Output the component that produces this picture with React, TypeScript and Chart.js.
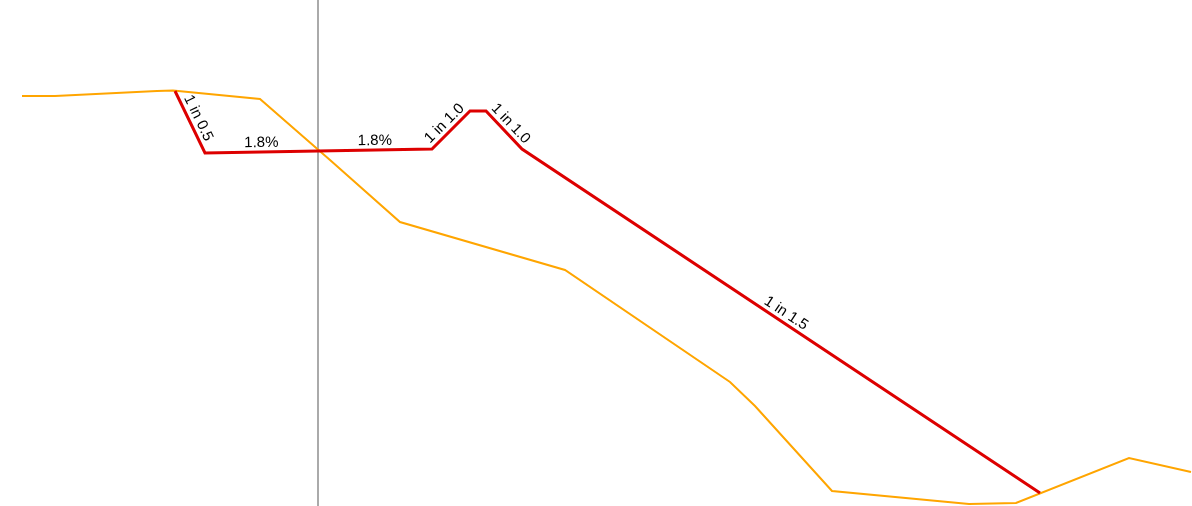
import React, { useEffect, useRef } from "react";
import { Chart, registerables } from "chart.js";

Chart.register(...registerables);

// Offsets (m) from centreline and elevations (m)
const groundX = [-11.84, -10.52, -6.44, -5.8, -2.32, 0.48, 3.28, 9.88, 16.48, 17.48, 20.56, 26.04, 27.92, 32.44, 34.92];
const groundY = [101.16, 101.16, 101.36, 101.38, 101.04, 98.6, 96.12, 94.2, 89.72, 88.76, 85.36, 84.84, 84.88, 86.68, 86.12];

const designX = [-5.72, -4.52, 0, 4.56, 6.08, 6.72, 8.16, 28.88];
const designY = [101.36, 98.88, 98.96, 99.04, 100.56, 100.56, 99.04, 85.28];

// Segment labels: index of segment start in design arrays
const labelSegments = [0, 1, 2, 3, 5, 6];
const labelTexts = ["1 in 0.5", "1.8%", "1.8%", "1 in 1.0", "1 in 1.0", "1 in 1.5"];

const xMin = -12.72;
const xMax = 34.96;
const yMin = 84.76;
const yMax = 105;
const centreX = 0;

const segLabelPlugin = {
  id: "segLabels",
  afterDatasetsDraw(chart: any) {
    const ctx = chart.ctx;
    const xs = chart.scales.x;
    const ys = chart.scales.y;
    ctx.save();
    ctx.font = '15px "Liberation Sans", Arial, sans-serif';
    ctx.fillStyle = "#000";
    ctx.textAlign = "center";
    ctx.textBaseline = "alphabetic";
    labelSegments.forEach((i, k) => {
      const x1 = xs.getPixelForValue(designX[i]);
      const y1 = ys.getPixelForValue(designY[i]);
      const x2 = xs.getPixelForValue(designX[i + 1]);
      const y2 = ys.getPixelForValue(designY[i + 1]);
      const mx = (x1 + x2) / 2;
      const my = (y1 + y2) / 2;
      const ang = Math.atan2(y2 - y1, x2 - x1);
      ctx.save();
      ctx.translate(mx, my);
      ctx.rotate(ang);
      ctx.fillText(labelTexts[k], 0, -5);
      ctx.restore();
    });
    ctx.restore();
  },
};

export default function App() {
  const ref = useRef<HTMLCanvasElement>(null);
  useEffect(() => {
    if (!ref.current) return;
    const chart = new Chart(ref.current, {
      type: "line",
      data: {
        datasets: [
          {
            label: "Design",
            data: designX.map((x, i) => ({ x, y: designY[i] })),
            borderColor: "#dd0000",
            borderWidth: 3,
            pointRadius: 0,
            tension: 0,
            order: 1,
          },
          {
            label: "Ground",
            data: groundX.map((x, i) => ({ x, y: groundY[i] })),
            borderColor: "#ffa500",
            borderWidth: 2,
            pointRadius: 0,
            tension: 0,
            order: 2,
          },
          {
            label: "Centreline",
            data: [
              { x: centreX, y: yMin },
              { x: centreX, y: yMax },
            ],
            borderColor: "#aaaaaa",
            borderWidth: 2,
            pointRadius: 0,
            tension: 0,
            order: 3,
          },
        ],
      },
      options: {
        animation: false,
        responsive: true,
        maintainAspectRatio: false,
        layout: { padding: 0 },
        plugins: { legend: { display: false }, tooltip: { enabled: false } },
        scales: {
          x: { type: "linear", min: xMin, max: xMax, display: false },
          y: { type: "linear", min: yMin, max: yMax, display: false },
        },
      },
      plugins: [segLabelPlugin],
    });
    return () => chart.destroy();
  }, []);
  return (
    <div style={{ position: "fixed", left: 0, top: 0, width: 1192, height: 506 }}>
      <canvas ref={ref} />
    </div>
  );
}
